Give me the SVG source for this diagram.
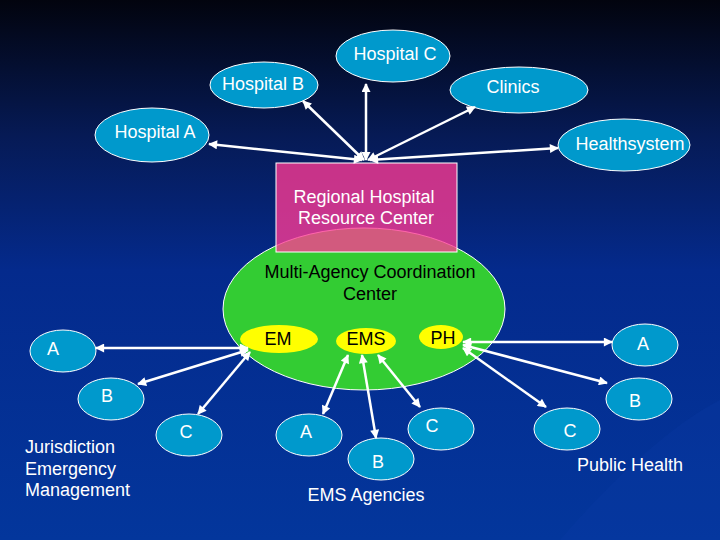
<svg xmlns="http://www.w3.org/2000/svg" width="720" height="540" viewBox="0 0 720 540">
<defs>
<linearGradient id="bg" x1="0" y1="0" x2="0" y2="1">
<stop offset="0" stop-color="#02040e"/>
<stop offset="0.25" stop-color="#061a55"/>
<stop offset="0.5" stop-color="#042a8c"/>
<stop offset="1" stop-color="#03369c"/>
</linearGradient>
<marker id="ah" viewBox="0 0 10 10" refX="9" refY="5" markerWidth="10" markerHeight="9" markerUnits="userSpaceOnUse" orient="auto-start-reverse">
<path d="M0,0 L10,5 L0,10 Z" fill="#ffffff"/>
</marker>
<style>
.blue{fill:#0099cc;stroke:#ffffff;stroke-width:1}
.yel{fill:#ffff00;stroke:none}
.wt{fill:#ffffff;font-family:"Liberation Sans",Arial,sans-serif;font-size:18px;text-anchor:middle}
.wl{fill:#ffffff;font-family:"Liberation Sans",Arial,sans-serif;font-size:18px}
.bt{fill:#000000;font-family:"Liberation Sans",Arial,sans-serif;font-size:18px;text-anchor:middle}
.con line{stroke:#ffffff;stroke-width:2.5;marker-start:url(#ah);marker-end:url(#ah)}
</style>
</defs>
<rect x="0" y="0" width="720" height="540" fill="url(#bg)"/>
<path d="M560,540 C620,470 680,420 720,400 L720,540 Z" fill="#0a3aa8" opacity="0.25"/>

<g id="macc">
<ellipse cx="364" cy="309" rx="141" ry="81" fill="#33cc33" stroke="#ffffff" stroke-width="1"/>
<text class="bt" x="370" y="278">Multi-Agency Coordination</text>
<text class="bt" x="370" y="300">Center</text>
</g>
<g id="rhrc">
<rect x="276" y="163" width="181" height="89" fill="#ff3a94" fill-opacity="0.78" stroke="#ffffff" stroke-width="1"/>
<text class="wt" x="364" y="203">Regional Hospital</text>
<text class="wt" x="366" y="224">Resource Center</text>
</g>

<g id="em"><ellipse class="yel" cx="279" cy="339" rx="39" ry="14"/><text class="bt" x="278" y="345">EM</text></g>
<g id="ems"><ellipse class="yel" cx="366" cy="341" rx="30" ry="13"/><text class="bt" x="366" y="345">EMS</text></g>
<g id="ph"><ellipse class="yel" cx="441" cy="337" rx="22" ry="12"/><text class="bt" x="443" y="344">PH</text></g>

<g id="hospC"><ellipse class="blue" cx="393" cy="56" rx="57" ry="26"/><text class="wt" x="395" y="60">Hospital C</text></g>
<g id="hospB"><ellipse class="blue" cx="264" cy="85" rx="54" ry="23"/><text class="wt" x="263" y="90">Hospital B</text></g>
<g id="clinics"><ellipse class="blue" cx="519" cy="90" rx="69" ry="23"/><text class="wt" x="513" y="93">Clinics</text></g>
<g id="hospA"><ellipse class="blue" cx="152" cy="135" rx="57" ry="27"/><text class="wt" x="155" y="138">Hospital A</text></g>
<g id="healthsystem"><ellipse class="blue" cx="624" cy="145" rx="66" ry="26"/><text class="wt" x="630" y="150">Healthsystem</text></g>

<g id="jemA"><ellipse class="blue" cx="63" cy="351" rx="33" ry="21"/><text class="wt" x="53" y="355">A</text></g>
<g id="jemB"><ellipse class="blue" cx="111" cy="399" rx="33" ry="21"/><text class="wt" x="107" y="402">B</text></g>
<g id="jemC"><ellipse class="blue" cx="189" cy="435" rx="33" ry="21"/><text class="wt" x="186" y="438">C</text></g>
<g id="jemLabel">
<text class="wl" x="25" y="453">Jurisdiction</text>
<text class="wl" x="25" y="475">Emergency</text>
<text class="wl" x="25" y="496">Management</text>
</g>

<g id="emsA"><ellipse class="blue" cx="309" cy="435" rx="33" ry="21"/><text class="wt" x="306" y="438">A</text></g>
<g id="emsB"><ellipse class="blue" cx="381" cy="459" rx="33" ry="21"/><text class="wt" x="378" y="468">B</text></g>
<g id="emsC"><ellipse class="blue" cx="441" cy="429" rx="33" ry="21"/><text class="wt" x="432" y="432">C</text></g>
<g id="emsLabel"><text class="wt" x="366" y="501">EMS Agencies</text></g>

<g id="phA"><ellipse class="blue" cx="645" cy="345" rx="33" ry="21"/><text class="wt" x="643" y="350">A</text></g>
<g id="phB"><ellipse class="blue" cx="639" cy="399" rx="33" ry="21"/><text class="wt" x="635" y="407">B</text></g>
<g id="phC"><ellipse class="blue" cx="567" cy="429" rx="33" ry="21"/><text class="wt" x="570" y="437">C</text></g>
<g id="phLabel"><text class="wt" x="630" y="471">Public Health</text></g>

<g id="connectors" class="con">
<line x1="366" y1="160" x2="366" y2="84"/>
<line x1="364" y1="160" x2="303" y2="101"/>
<line x1="368" y1="160" x2="475" y2="107"/>
<line x1="362" y1="160" x2="209" y2="144"/>
<line x1="370" y1="160" x2="558" y2="148"/>
<line x1="248" y1="348" x2="96" y2="348"/>
<line x1="248" y1="350" x2="138" y2="384"/>
<line x1="250" y1="352" x2="198" y2="414"/>
<line x1="348" y1="355" x2="323" y2="414"/>
<line x1="362" y1="355" x2="376" y2="438"/>
<line x1="378" y1="355" x2="420" y2="407"/>
<line x1="463" y1="342" x2="612" y2="342"/>
<line x1="463" y1="345" x2="607" y2="383"/>
<line x1="463" y1="348" x2="546" y2="407"/>
</g>
</svg>
